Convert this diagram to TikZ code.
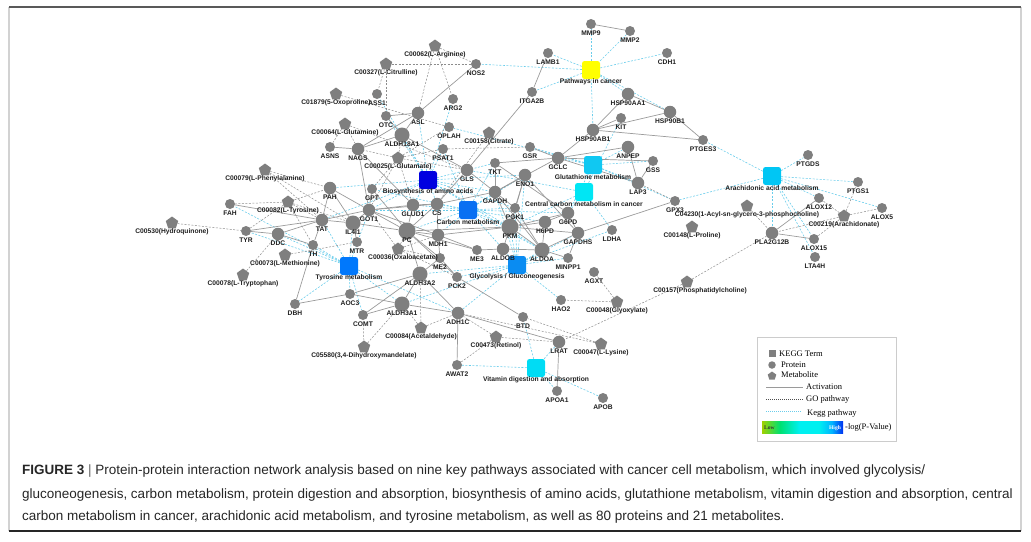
\documentclass[tikz,border=0pt]{standalone}
\usepackage{fontspec}
\setmainfont{Liberation Sans}
\newfontfamily\legfont{Liberation Serif}
\usetikzlibrary{shapes.geometric}
\pgfdeclarelayer{bg}
\pgfsetlayers{bg,main}
\definecolor{ngray}{HTML}{7F7F7F}
\definecolor{egray}{HTML}{9A9A9A}
\definecolor{dgray}{HTML}{8C8C8C}
\definecolor{kcyan}{HTML}{6ACDEB}
\definecolor{cYel}{HTML}{FFFF00}
\definecolor{cBAA}{HTML}{0000E0}
\definecolor{cCM}{HTML}{0A70F2}
\definecolor{cGM}{HTML}{10C8F2}
\definecolor{cCC}{HTML}{00E6F4}
\definecolor{cAA}{HTML}{00C6F4}
\definecolor{cTM}{HTML}{0078FC}
\definecolor{cGG}{HTML}{0A8CF2}
\definecolor{cVD}{HTML}{00DCF4}
\definecolor{g1}{HTML}{A0D000}
\definecolor{g2}{HTML}{00E070}
\definecolor{g3}{HTML}{00F0F0}
\definecolor{g4}{HTML}{00B4FF}
\definecolor{g5}{HTML}{0030F0}
\pgfdeclarehorizontalshading{pval}{100bp}{color(0bp)=(g1); color(25bp)=(g1); color(36bp)=(g2); color(48bp)=(g3); color(60bp)=(g3); color(68bp)=(g4); color(75bp)=(g5); color(100bp)=(g5)}
\begin{document}
\begin{tikzpicture}[x=1pt,y=-1pt,
  ps/.style={circle,fill=ngray,draw=none,minimum size=10pt,inner sep=0pt},
  pm/.style={ps,minimum size=12.5pt},
  pl/.style={ps,minimum size=15pt},
  px/.style={ps,minimum size=17pt},
  met/.style={regular polygon,regular polygon sides=5,fill=ngray,draw=none,minimum size=13pt,inner sep=0pt},
  kg/.style={rounded corners=2.5pt,minimum size=18pt,inner sep=0pt,draw=none},
  lab/.style={font=\fontsize{6.7}{7}\selectfont\bfseries,text=black!88,inner sep=0pt,yshift=-9pt},
  klab/.style={lab,yshift=-3pt},
  lb/.style={label={[lab]center:{#1}}},
  kl/.style={label={[klab]center:{#1}}},
  act/.style={draw=egray,line width=0.7pt},
  go/.style={draw=dgray,line width=0.5pt,dash pattern=on 2pt off 1.5pt},
  kgl/.style={draw=kcyan,line width=0.6pt,dash pattern=on 2pt off 1.5pt},
  legt/.style={font=\legfont\fontsize{8.5}{9}\selectfont,inner sep=0pt,anchor=west},
  capt/.style={anchor=base west,inner sep=0pt,font=\fontsize{13.5}{15}\selectfont,text=black!85}]
\useasboundingbox (0,0) rectangle (1031,541);
% frame
\draw[gray!35,line width=1.5pt] (9,7) -- (9,531);
\draw[gray!35,line width=1.5pt] (1021,7) -- (1021,531);
\draw[black!65,line width=1.2pt] (9,7) -- (1021,7);
\draw[black!85,line width=1.2pt] (9,531) -- (1021,531);

% KEGG terms
\node[kg,fill=cYel,kl=Pathways in cancer] (kPC) at (591,70) {};
\node[kg,fill=cBAA,kl=Biosynthesis of amino acids] (kBAA) at (428,180) {};
\node[kg,fill=cCM,kl=Carbon metabolism] (kCM) at (468,210) {};
\node[kg,fill=cGM,kl=Glutathione metabolism] (kGM) at (593,165) {};
\node[kg,fill=cCC,kl=Central carbon metabolism in cancer] (kCC) at (584,192) {};
\node[kg,fill=cAA,kl=Arachidonic acid metabolism] (kAA) at (772,176) {};
\node[kg,fill=cTM,kl=Tyrosine metabolism] (kTM) at (349,266) {};
\node[kg,fill=cGG,kl=Glycolysis / Gluconeogenesis] (kGG) at (517,265) {};
\node[kg,fill=cVD,kl=Vitamin digestion and absorption] (kVD) at (536,368) {};

% proteins small
\node[ps,lb=MMP9] (MMP9) at (591,24) {};
\node[ps,lb=MMP2] (MMP2) at (630,31) {};
\node[ps,lb=LAMB1] (LAMB1) at (548,53) {};
\node[ps,lb=CDH1] (CDH1) at (667,53) {};
\node[ps,lb=ITGA2B] (ITGA2B) at (532,92) {};
\node[ps,lb=KIT] (KIT) at (621,118) {};
\node[ps,lb=PTGES3] (PTGES3) at (703,140) {};
\node[ps,lb=NOS2] (NOS2) at (476,64) {};
\node[ps,lb=ARG2] (ARG2) at (453,99) {};
\node[ps,lb=ASS1] (ASS1) at (377,94) {};
\node[ps,lb=OTC] (OTC) at (386,116) {};
\node[ps,lb=OPLAH] (OPLAH) at (449,127) {};
\node[ps,lb=ASNS] (ASNS) at (330,147) {};
\node[ps,lb=PSAT1] (PSAT1) at (443,149) {};
\node[ps,lb=GSR] (GSR) at (530,147) {};
\node[ps,lb=TKT] (TKT) at (495,163) {};
\node[ps,lb=GSS] (GSS) at (653,161) {};
\node[ps,lb=GPT] (GPT) at (372,189) {};
\node[ps,lb=FAH] (FAH) at (230,204) {};
\node[ps,lb=PGK1] (PGK1) at (515,208) {};
\node[ps,lb=LDHA] (LDHA) at (612,230) {};
\node[ps,lb=MINPP1] (MINPP1) at (568,258) {};
\node[ps,lb=ME3] (ME3) at (477,250) {};
\node[ps,lb=ME2] (ME2) at (440,258) {};
\node[ps,lb=PCK2] (PCK2) at (457,277) {};
\node[ps,lb=AGXT] (AGXT) at (594,272) {};
\node[ps,lb=HAO2] (HAO2) at (561,300) {};
\node[ps,lb=AOC3] (AOC3) at (350,294) {};
\node[ps,lb=COMT] (COMT) at (363,315) {};
\node[ps,lb=DBH] (DBH) at (295,304) {};
\node[ps,lb=BTD] (BTD) at (523,317) {};
\node[ps,lb=AWAT2] (AWAT2) at (457,365) {};
\node[ps,lb=APOA1] (APOA1) at (557,391) {};
\node[ps,lb=APOB] (APOB) at (603,398) {};
\node[ps,lb=TYR] (TYR) at (246,231) {};
\node[ps,lb=TH] (TH) at (313,245) {};
\node[ps,lb=MTR] (MTR) at (357,242) {};
\node[ps,lb=GPX3] (GPX3) at (675,201) {};
\node[ps,lb=PTGDS] (PTGDS) at (808,155) {};
\node[ps,lb=PTGS1] (PTGS1) at (858,182) {};
\node[ps,lb=ALOX12] (ALOX12) at (819,198) {};
\node[ps,lb=ALOX5] (ALOX5) at (882,208) {};
\node[ps,lb=ALOX15] (ALOX15) at (814,239) {};
\node[ps,lb=LTA4H] (LTA4H) at (815,257) {};
% proteins medium
\node[pm,lb=HSP90AA1] (HSP90AA1) at (628,94) {};
\node[pm,lb=HSP90B1] (HSP90B1) at (670,112) {};
\node[pm,lb=HSP90AB1] (HSP90AB1) at (593,130) {};
\node[pm,lb=ASL] (ASL) at (418,113) {};
\node[pm,lb=NAGS] (NAGS) at (358,149) {};
\node[pm,lb=GLS] (GLS) at (467,170) {};
\node[pm,lb=GCLC] (GCLC) at (558,158) {};
\node[pm,lb=ANPEP] (ANPEP) at (628,147) {};
\node[pm,lb=LAP3] (LAP3) at (638,183) {};
\node[pm,lb=ENO1] (ENO1) at (525,175) {};
\node[pm,lb=GAPDH] (GAPDH) at (495,192) {};
\node[pm,lb=GLUD1] (GLUD1) at (413,205) {};
\node[pm,lb=CS] (CS) at (437,204) {};
\node[pm,lb=PAH] (PAH) at (330,188) {};
\node[pm,lb=GOT1] (GOT1) at (369,210) {};
\node[pm,lb=TAT] (TAT) at (322,220) {};
\node[pm,lb=MDH1] (MDH1) at (438,235) {};
\node[pm,lb=H6PD] (H6PD) at (545,222) {};
\node[pm,lb=G6PD] (G6PD) at (568,213) {};
\node[pm,lb=GAPDHS] (GAPDHS) at (578,233) {};
\node[pm,lb=ALDOB] (ALDOB) at (503,249) {};
\node[pm,lb=ADH1C] (ADH1C) at (458,313) {};
\node[pm,lb=LRAT] (LRAT) at (559,342) {};
\node[pm,lb=DDC] (DDC) at (278,234) {};
\node[pm,lb=PLA2G12B] (PLA2G12B) at (772,233) {};
% proteins large
\node[pl,lb=ALDH18A1] (ALDH18A1) at (402,135) {};
\node[pl,lb=IL4I1] (IL4I1) at (353,223) {};
\node[px,lb=PC] (PC) at (407,231) {};
\node[px,lb=PKM] (PKM) at (510,227) {};
\node[pl,lb=ALDOA] (ALDOA) at (542,250) {};
\node[pl,lb=ALDH3A2] (ALDH3A2) at (420,274) {};
\node[pl,lb=ALDH3A1] (ALDH3A1) at (402,304) {};

% metabolites
\node[met,lb={C00062(L-Arginine)}] (C00062) at (435,46) {};
\node[met,lb={C00327(L-Citrulline)}] (C00327) at (386,64) {};
\node[met,lb={C01879(5-Oxoproline)}] (C01879) at (336,94) {};
\node[met,lb={C00064(L-Glutamine)}] (C00064) at (345,124) {};
\node[met,lb={C00158(Citrate)}] (C00158) at (489,133) {};
\node[met,lb={C00025(L-Glutamate)}] (C00025) at (398,158) {};
\node[met,lb={C00079(L-Phenylalanine)}] (C00079) at (265,170) {};
\node[met,lb={C00082(L-Tyrosine)}] (C00082) at (288,202) {};
\node[met,lb={C00530(Hydroquinone)}] (C00530) at (172,223) {};
\node[met,lb={C00073(L-Methionine)}] (C00073) at (285,255) {};
\node[met,lb={C00078(L-Tryptophan)}] (C00078) at (243,275) {};
\node[met,label={[lab,xshift=5pt]center:{C00036(Oxaloacetate)}}] (C00036) at (398,249) {};
\node[met,lb={C00084(Acetaldehyde)}] (C00084) at (421,328) {};
\node[met,lb={C05580(3,4-Dihydroxymandelate)}] (C05580) at (364,347) {};
\node[met,lb={C00473(Retinol)}] (C00473) at (496,337) {};
\node[met,lb={C00048(Glyoxylate)}] (C00048) at (617,302) {};
\node[met,lb={C00047(L-Lysine)}] (C00047) at (601,344) {};
\node[met,label={[lab,xshift=13pt]center:{C00157(Phosphatidylcholine)}}] (C00157) at (687,282) {};
\node[met,lb={C04230(1-Acyl-sn-glycero-3-phosphocholine)}] (C04230) at (747,206) {};
\node[met,lb={C00148(L-Proline)}] (C00148) at (692,227) {};
\node[met,lb={C00219(Arachidonate)}] (C00219) at (844,216) {};

\begin{pgfonlayer}{bg}
% KEGG pathway links
\foreach \b in {MMP9,MMP2,LAMB1,CDH1,ITGA2B,HSP90AA1,HSP90B1,HSP90AB1,NOS2} \draw[kgl] (kPC) -- (\b);
\foreach \b in {PTGES3,PTGDS,PTGS1,ALOX5,ALOX12,ALOX15,LTA4H,PLA2G12B,GPX3} \draw[kgl] (kAA) -- (\b);
\foreach \b in {GSR,GCLC,GSS,ANPEP,LAP3,GPX3,OPLAH,G6PD} \draw[kgl] (kGM) -- (\b);
\foreach \b in {KIT,LDHA,PKM,G6PD,GLS} \draw[kgl] (kCC) -- (\b);
\foreach \b in {ASS1,ASL,OTC,ALDH18A1,PSAT1,GLUD1,CS,GOT1,GAPDH,ENO1,PGK1,PKM,ALDOA,TKT,TAT,PAH,ARG2} \draw[kgl] (kBAA) -- (\b);
\foreach \b in {CS,MDH1,PC,GAPDH,ENO1,PKM,PGK1,ALDOA,ALDOB,TKT,G6PD,H6PD,GOT1,GPT,PSAT1,GLUD1} \draw[kgl] (kCM) -- (\b);
\foreach \b in {TAT,TYR,DDC,TH,DBH,AOC3,COMT,ALDH3A1,ADH1C,IL4I1,FAH,GOT1} \draw[kgl] (kTM) -- (\b);
\foreach \b in {PKM,ALDOA,ALDOB,GAPDH,PGK1,ENO1,GAPDHS,MINPP1,PCK2,ADH1C,ALDH3A2,ALDH3A1,LDHA,HAO2} \draw[kgl] (kGG) -- (\b);
\foreach \b in {LRAT,APOA1,APOB,AWAT2,BTD} \draw[kgl] (kVD) -- (\b);
% GO pathway links
\foreach \a/\b in {C00062/NOS2,C00327/NOS2,C00062/ASL,C00062/ARG2,C00327/ASS1,C00327/OTC,C01879/OPLAH,C00064/ASNS,C00064/NAGS,C00064/GLS,C00025/NAGS,C00025/GLUD1,C00025/GLS,C00025/ALDH18A1,C00025/PSAT1,C00025/GOT1,C00025/GPT,C00025/OPLAH,C00158/CS,PSAT1/GSR,C00079/PAH,C00079/TAT,C00079/IL4I1,C00082/TAT,C00082/PAH,C00082/TYR,C00082/TH,C00082/FAH,C00082/IL4I1,C00530/TYR,C00073/MTR,C00078/DDC,C00036/PC,C00036/MDH1,C00036/GOT1,C00036/PCK2,C00036/ME2,C00084/ALDH3A2,C00084/ADH1C,C00084/ALDH3A1,C05580/COMT,C05580/ALDH3A1,C00473/AWAT2,C00473/ADH1C,C00473/LRAT,C00048/HAO2,C00048/AGXT,C00047/ADH1C,C00047/BTD,C00157/LRAT,C00157/PLA2G12B,C04230/PLA2G12B,C00219/ALOX12,C00219/ALOX5,C00219/ALOX15,C00219/PTGS1,C00219/PLA2G12B,LAP3/GPX3}
  \draw[go] (\a) -- (\b);
% activation links
\foreach \a/\b in {MMP9/MMP2,LAMB1/ITGA2B,ITGA2B/GLS,HSP90AA1/HSP90B1,HSP90AA1/HSP90AB1,HSP90B1/HSP90AB1,HSP90B1/PTGES3,HSP90AB1/PTGES3,HSP90AB1/KIT,HSP90AB1/GCLC,GCLC/ANPEP,GCLC/GSS,GCLC/GSR,GCLC/LAP3,ANPEP/LAP3,GSS/LAP3,GCLC/TKT,GCLC/GAPDH,NOS2/ASL,ASL/ALDH18A1,ASL/OTC,ASL/NAGS,ALDH18A1/NAGS,ALDH18A1/OTC,ALDH18A1/GLS,ASNS/NAGS,NAGS/GOT1,NAGS/GLUD1,PAH/TAT,PAH/GOT1,PAH/IL4I1,FAH/TAT,TAT/GOT1,TAT/IL4I1,TAT/TYR,TAT/DDC,TAT/TH,TH/DBH,TH/DDC,TYR/DDC,GOT1/IL4I1,GOT1/GLUD1,GOT1/CS,GOT1/PC,GOT1/MDH1,GPT/GOT1,GPT/PC,IL4I1/PC,IL4I1/MTR,GLUD1/CS,GLUD1/PC,CS/PC,CS/MDH1,CS/GAPDH,CS/GLS,PC/MDH1,PC/ME2,PC/PCK2,PC/ME3,PC/PKM,MDH1/ME2,MDH1/ME3,MDH1/PKM,GAPDH/PGK1,GAPDH/PKM,GAPDH/ENO1,GAPDH/ALDOA,GAPDH/TKT,GAPDH/GLS,PKM/PGK1,PKM/ENO1,PKM/ALDOA,PKM/ALDOB,PKM/G6PD,PKM/GAPDHS,PKM/H6PD,ENO1/GAPDHS,ENO1/PGK1,G6PD/H6PD,G6PD/GAPDHS,G6PD/TKT,H6PD/ALDOA,ALDOA/GAPDHS,ALDOA/MINPP1,ALDOA/ALDOB,GAPDHS/GPX3,GAPDHS/MINPP1,ME2/ALDH3A2,ALDH3A2/ALDH3A1,ALDH3A2/ADH1C,ALDH3A2/COMT,ALDH3A2/AOC3,ALDH3A1/AOC3,ALDH3A1/ADH1C,ALDH3A1/COMT,AOC3/DBH,ADH1C/AWAT2,ADH1C/LRAT,PCK2/BTD,LRAT/APOA1,PLA2G12B/ALOX12,PLA2G12B/ALOX15,PC/ALDH3A2,ME2/PCK2,ME3/ALDOB,PGK1/ALDOA}
  \draw[act] (\a) -- (\b);
\end{pgfonlayer}

% legend
\draw[gray!40,line width=0.8pt] (757,337) rectangle (896,441);
\node[fill=ngray,minimum size=7pt,inner sep=0pt] (lgk) at (772,353) {};
\node[legt] (lgkt) at (779,354) {KEGG Term};
\node[circle,fill=ngray,minimum size=7.5pt,inner sep=0pt] (lgp) at (772,365) {};
\node[legt] (lgpt) at (781,365) {Protein};
\node[regular polygon,regular polygon sides=5,fill=ngray,minimum size=9pt,inner sep=0pt] (lgm) at (772,376) {};
\node[legt] (lgmt) at (781,375) {Metabolite};
\draw[egray,line width=1pt] (766,387) -- (803,387);
\node[legt] (lgat) at (806,387) {Activation};
\draw[black!70,line width=0.5pt,dash pattern=on 1pt off 1pt] (766,399) -- (803,399);
\node[legt] (lggt) at (806,399) {GO pathway};
\draw[kcyan,line width=0.6pt,dash pattern=on 1pt off 1pt] (766,411) -- (802,411);
\node[legt] (lgkp) at (807,413) {Kegg pathway};
\shade[shading=pval] (762,421) rectangle (843,433);
\node[font=\legfont\fontsize{5.5}{6}\selectfont\bfseries,text=black!80,anchor=west,inner sep=0pt] (lglow) at (764,428) {Low};
\node[font=\legfont\fontsize{5.5}{6}\selectfont\bfseries,text=white,anchor=east,inner sep=0pt] (lghigh) at (841,428) {High};
\node[legt] (lgpv) at (845,427) {-log(P-Value)};

% caption
\node[capt] (cap1) at (22,474) {\textbf{FIGURE 3} {\color{black!60}|} Protein-protein interaction network analysis based on nine key pathways associated with cancer cell metabolism, which involved glycolysis/};
\node[capt] (cap2) at (22,498) {gluconeogenesis, carbon metabolism, protein digestion and absorption, biosynthesis of amino acids, glutathione metabolism, vitamin digestion and absorption, central};
\node[capt] (cap3) at (22,520) {carbon metabolism in cancer, arachidonic acid metabolism, and tyrosine metabolism, as well as 80 proteins and 21 metabolites.};
\end{tikzpicture}
\end{document}
